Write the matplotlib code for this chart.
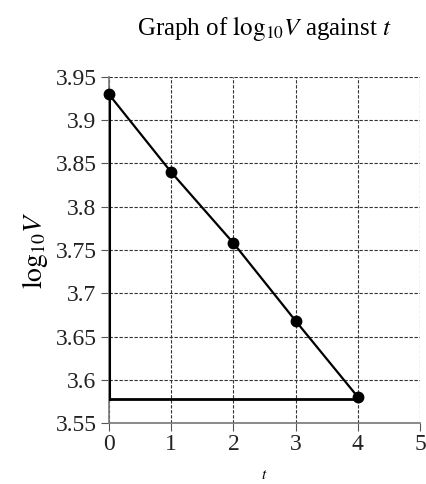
import matplotlib
matplotlib.use('Agg')
import matplotlib.pyplot as plt

plt.rcParams['font.family'] = ['Liberation Serif', 'DejaVu Serif']
plt.rcParams['mathtext.fontset'] = 'stix'

t = [0, 1, 2, 3, 4]
log_v = [3.93, 3.84, 3.758, 3.668, 3.58]
base_y = 3.578

fig = plt.figure(figsize=(4.27, 4.84), dpi=100)
ax = fig.add_axes([0.255, 0.126, 0.729, 0.715])

ax.set_xlim(0, 5)
ax.set_ylim(3.55, 3.95)
ax.set_xticks([0, 1, 2, 3, 4, 5])
ax.set_yticks([3.55, 3.6, 3.65, 3.7, 3.75, 3.8, 3.85, 3.9, 3.95])
ax.set_yticklabels(['3.55', '3.6', '3.65', '3.7', '3.75', '3.8', '3.85', '3.9', '3.95'])
ax.grid(True, color='#333333', linestyle=(0, (3, 1.5)), linewidth=0.8)

for s in ['top', 'right']:
    ax.spines[s].set_visible(False)
for s in ['left', 'bottom']:
    ax.spines[s].set_color('#777777')
    ax.spines[s].set_linewidth(1.2)
ax.tick_params(direction='out', length=6, color='#555555', labelsize=17, labelcolor='#222222')
ax.tick_params(axis='y', pad=3)
ax.tick_params(axis='x', pad=2)

# triangle
ax.plot([t[0], t[0]], [base_y, log_v[0]], color='black', lw=2.2, zorder=3)
ax.plot([t[0], t[-1]], [base_y, base_y], color='black', lw=2.0, zorder=3)
ax.plot(t, log_v, color='black', lw=1.6, marker='o', markersize=7.5, zorder=4, clip_on=False)

ax.set_title(r'Graph of $\mathrm{log}_{10}V$ against $t$', fontsize=18, pad=30, x=0.5)
ax.set_ylabel(r'$\mathrm{log}_{10}V$', fontsize=20, labelpad=4)
ax.set_xlabel(r'$t$', fontsize=11, labelpad=10)

fig.savefig('out.png', dpi=100)
